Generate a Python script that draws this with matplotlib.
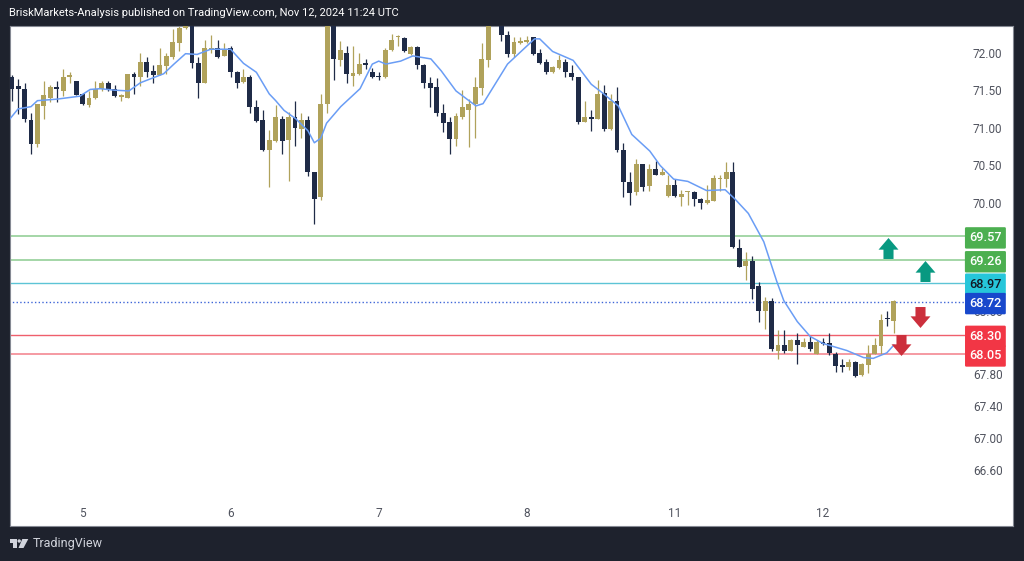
import matplotlib
matplotlib.use("Agg")
import matplotlib.pyplot as plt
from matplotlib.patches import Polygon, Circle
from matplotlib.path import Path
from matplotlib.ticker import FixedLocator, FormatStrFormatter, NullLocator
from matplotlib.transforms import Affine2D, blended_transform_factory

# candles, hourly, one row of ten per line
candle_open = [
    71.68, 71.55, 71.52, 71.10, 70.78, 71.29, 71.40, 71.54, 71.49, 71.67,
    71.62, 71.45, 71.30, 71.39, 71.52, 71.59, 71.51, 71.41, 71.40, 71.72,
    71.67, 71.88, 71.76, 71.70, 71.83, 71.95, 72.14, 72.34, 72.60, 71.86,
    71.60, 72.05, 72.06, 71.96, 72.06, 71.75, 71.61, 71.67, 71.28, 71.10,
    70.71, 70.82, 71.12, 70.83, 71.14, 70.98, 71.10, 70.42, 70.08, 71.32,
    72.60, 71.91, 72.00, 71.69, 71.72, 71.85, 71.75, 71.68, 71.67, 72.04,
    72.21, 72.20, 71.99, 72.08, 71.84, 71.59, 71.54, 71.20, 71.07, 70.85,
    71.14, 71.24, 71.32, 71.53, 71.90, 72.60, 72.70, 72.24, 71.99, 72.13,
    72.15, 72.21, 72.00, 71.88, 71.74, 71.80, 71.88, 71.73, 71.68, 71.08,
    71.14, 71.11, 71.46, 70.98, 71.35, 70.70, 70.28, 70.15, 70.52, 70.23,
    70.45, 70.37, 70.10, 70.24, 70.09, 70.15, 70.15, 70.06, 70.01, 70.03,
    70.32, 70.32, 70.41, 69.42, 69.18, 69.25, 68.93, 68.61, 68.73, 68.10,
    68.17, 68.10, 68.24, 68.15, 68.21, 68.06, 68.21, 68.20, 68.06, 67.91,
    67.89, 67.95, 67.79, 67.92, 68.05, 68.16, 68.51, 68.48,
]
candle_high = [
    71.70, 71.65, 71.59, 71.20, 71.32, 71.62, 71.57, 71.62, 71.78, 71.75,
    71.62, 71.46, 71.49, 71.62, 71.62, 71.62, 71.57, 71.45, 71.72, 71.75,
    72.00, 71.95, 71.84, 72.06, 72.00, 72.33, 72.38, 72.60, 72.70, 71.94,
    72.18, 72.24, 72.17, 72.13, 72.09, 71.76, 71.79, 71.70, 71.37, 71.23,
    70.97, 71.30, 71.15, 71.21, 71.36, 71.19, 71.16, 70.42, 71.45, 72.70,
    72.70, 72.16, 72.09, 72.09, 72.00, 71.92, 71.80, 71.75, 72.07, 72.25,
    72.24, 72.22, 72.10, 72.09, 71.85, 71.68, 71.66, 71.31, 71.14, 71.19,
    71.50, 71.38, 71.67, 72.14, 72.70, 72.90, 72.80, 72.29, 72.21, 72.22,
    72.23, 72.22, 72.05, 71.92, 71.82, 71.97, 71.92, 71.84, 71.68, 71.36,
    71.23, 71.63, 71.57, 71.45, 71.54, 70.80, 70.42, 70.58, 70.52, 70.52,
    70.56, 70.47, 70.37, 70.32, 70.18, 70.16, 70.16, 70.07, 70.24, 70.37,
    70.37, 70.54, 70.55, 69.54, 69.37, 69.32, 68.98, 68.78, 68.77, 68.36,
    68.36, 68.25, 68.33, 68.26, 68.28, 68.23, 68.26, 68.32, 68.08, 67.99,
    67.99, 67.97, 67.94, 68.17, 68.26, 68.57, 68.60, 68.75,
]
candle_low = [
    71.36, 71.18, 71.07, 70.65, 70.74, 71.12, 71.34, 71.34, 71.42, 71.60,
    71.43, 71.30, 71.28, 71.38, 71.49, 71.49, 71.41, 71.36, 71.39, 71.45,
    71.55, 71.68, 71.60, 71.70, 71.72, 71.92, 72.03, 72.33, 71.80, 71.39,
    71.60, 72.00, 71.93, 71.96, 71.67, 71.53, 71.60, 71.20, 71.07, 70.69,
    70.21, 70.81, 70.65, 70.29, 70.76, 70.86, 70.36, 69.73, 70.05, 71.20,
    71.63, 71.83, 71.60, 71.55, 71.71, 71.78, 71.66, 71.64, 71.66, 72.03,
    72.09, 72.01, 71.97, 71.79, 71.53, 71.28, 71.16, 70.94, 70.65, 70.76,
    71.11, 70.75, 70.86, 71.44, 71.81, 72.50, 72.16, 71.95, 71.95, 72.12,
    72.13, 71.97, 71.85, 71.72, 71.73, 71.79, 71.68, 71.64, 71.05, 71.07,
    70.96, 71.11, 70.95, 70.97, 70.68, 70.09, 69.98, 70.11, 70.17, 70.17,
    70.37, 70.37, 70.09, 70.09, 69.97, 69.98, 69.97, 69.93, 69.99, 70.03,
    70.17, 70.21, 69.42, 69.17, 69.00, 68.76, 68.46, 68.38, 68.09, 67.99,
    68.07, 68.09, 67.93, 68.14, 68.10, 68.05, 68.17, 68.04, 67.83, 67.83,
    67.85, 67.76, 67.77, 67.82, 68.05, 68.05, 68.41, 68.33,
]
candle_close = [
    71.52, 71.52, 71.12, 70.78, 71.31, 71.44, 71.54, 71.51, 71.68, 71.71,
    71.44, 71.31, 71.40, 71.52, 71.59, 71.51, 71.42, 71.42, 71.72, 71.68,
    71.88, 71.74, 71.71, 71.84, 71.96, 72.15, 72.34, 72.50, 71.86, 71.60,
    72.06, 72.06, 71.94, 72.05, 71.75, 71.60, 71.67, 71.28, 71.09, 70.71,
    70.83, 71.14, 70.82, 71.14, 70.99, 71.10, 70.42, 70.06, 71.32, 72.60,
    71.92, 72.04, 71.72, 71.73, 71.85, 71.84, 71.67, 71.67, 72.04, 72.18,
    72.22, 72.02, 72.08, 71.84, 71.60, 71.53, 71.19, 71.06, 70.85, 71.15,
    71.27, 71.32, 71.54, 71.92, 72.60, 72.80, 72.24, 71.99, 72.15, 72.16,
    72.18, 71.98, 71.86, 71.74, 71.81, 71.90, 71.74, 71.68, 71.08, 71.14,
    71.11, 71.45, 70.98, 71.36, 70.71, 70.28, 70.14, 70.52, 70.21, 70.45,
    70.38, 70.42, 70.24, 70.10, 70.13, 70.16, 70.06, 70.01, 70.04, 70.34,
    70.33, 70.42, 69.43, 69.17, 69.25, 68.89, 68.61, 68.74, 68.12, 68.17,
    68.10, 68.24, 68.17, 68.21, 68.12, 68.21, 68.18, 68.07, 67.90, 67.89,
    67.95, 67.78, 67.93, 68.06, 68.17, 68.49, 68.50, 68.73,
]

# moving average, vertices
ma_index = [-0.25, 1, 3, 4, 7, 10.6, 12.2, 13.75, 16, 18.2, 20, 23.6, 25.2, 27, 28.8, 30.9, 34, 36, 38, 40,
            41, 42.3, 44.1, 46, 47, 48, 48.9, 51.1, 54.1, 56, 57, 58.1, 60.4, 62.3, 65.1, 66.7, 69, 72.1, 73.2, 77,
            81.2, 82, 84, 87.2, 90, 91.8, 94.2, 96.3, 99.1, 100.7, 102.8, 105, 107.9, 110.8, 112.3, 114.4, 116.8, 118.8, 119.9, 122,
            124, 126, 129.7, 132.3, 133.8, 135.9, 137]
ma_price = [71.12, 71.25, 71.28, 71.36, 71.38, 71.42, 71.51, 71.52, 71.50, 71.49, 71.60, 71.72, 71.85, 71.99, 71.98, 72.05, 72.05, 71.86, 71.74, 71.45,
            71.36, 71.23, 71.12, 70.96, 70.80, 70.86, 71.06, 71.28, 71.52, 71.85, 71.89, 71.85, 71.89, 71.96, 71.92, 71.76, 71.49, 71.29, 71.32, 71.85,
            72.19, 72.19, 72.02, 71.90, 71.58, 71.46, 71.29, 70.91, 70.69, 70.50, 70.32, 70.29, 70.17, 70.18, 70.06, 69.87, 69.50, 68.99, 68.74, 68.47,
            68.28, 68.19, 68.10, 68.01, 68.00, 68.07, 68.17]

price_ticks = [72.0, 71.5, 71.0, 70.5, 70.0, 69.5, 68.6, 68.2, 67.8, 67.4, 67.0, 66.6]
day_ticks = [11, 34, 57, 80, 103, 126]
day_labels = ["5", "6", "7", "8", "11", "12"]

level_prices = [69.57, 69.26, 68.97, 68.72, 68.30, 68.05]
level_labels = ["69.57", "69.26", "68.97", "68.72", "68.30", "68.05"]
level_line_colors = ["#8ccb8f", "#8ccb8f", "#5cc4d6", "#3f66d8", "#ef5f6c", "#f59aa2"]
level_box_colors = ["#4caf50", "#4caf50", "#26c6da", "#1848cc", "#f23645", "#f23645"]
level_text_colors = ["white", "white", "#131722", "white", "white", "white"]

up_index = [136.1, 141.9]
up_price = [69.42, 69.115]
down_index = [141.1, 138.1]
down_price = [68.53, 68.17]

BG = "#1e222d"
DARK = "#1f2b47"
GOLD = "#b0a25b"
W, H = 1024, 561

plt.rcParams["font.family"] = ["Roboto", "DejaVu Sans"]

fig = plt.figure(figsize=(W / 100, H / 100), dpi=100, facecolor=BG)
# panel: x 10-1013, y 26-526 in pixels
ax = fig.add_axes([10 / W, 1 - 526 / H, 1003 / W, 500 / H], facecolor="white")

index = list(range(len(candle_open)))
colors = [GOLD if c >= o else DARK for o, c in zip(candle_open, candle_close)]
bottoms = [min(o, c) for o, c in zip(candle_open, candle_close)]
heights = [max(abs(c - o), 0.02) for o, c in zip(candle_open, candle_close)]

ax.set_yscale("log")
ax.vlines(index, candle_low, candle_high, colors=colors, linewidth=0.9, zorder=2)
ax.bar(index, heights, bottom=bottoms, width=0.76, color=colors, zorder=3)
ax.plot(ma_index, ma_price, color="#6a9df5", linewidth=1.1, zorder=4)

# price levels stop at the label box
for price, color, style, lw in zip(level_prices, level_line_colors, ["-", "-", "-", ":", "-", "-"],
                                   [1.1, 1.1, 1.0, 1.0, 1.0, 1.4]):
    ax.hlines(price, -1, 148.1, colors=color, linewidth=lw, linestyles=style, zorder=1.5)

# arrows as path markers
up_arrow = Path([(0, 1), (0.95, -0.11), (0.48, -0.11), (0.48, -1), (-0.48, -1), (-0.48, -0.11), (-0.95, -0.11), (0, 1)], closed=True)
down_arrow = up_arrow.transformed(Affine2D().scale(1, -1))
ax.plot(up_index, up_price, ls="", marker=up_arrow, markersize=15.1, color="#089981", mew=0, zorder=5)
ax.plot(down_index, down_price, ls="", marker=down_arrow, markersize=15.1, color="#cc2f3c", mew=0, zorder=5)

ax.set_xlim(-0.26, 155.5)
ax.set_ylim(65.90, 72.364)

ax.yaxis.tick_right()
ax.yaxis.set_major_locator(FixedLocator(price_ticks))
ax.yaxis.set_major_formatter(FormatStrFormatter("%.2f"))
ax.yaxis.set_minor_locator(NullLocator())
ax.tick_params(axis="y", length=0, pad=-28.8, labelsize=8.5, labelcolor="#50535e")
ax.set_xticks(day_ticks)
ax.set_xticklabels(day_labels)
ax.xaxis.set_minor_locator(NullLocator())
ax.tick_params(axis="x", length=0, pad=-14, labelsize=8.5, labelcolor="#50535e")
for spine in ax.spines.values():
    spine.set_color("#858993")
    spine.set_linewidth(0.8)

# label boxes over the price axis
tr = blended_transform_factory(ax.transAxes, ax.transData)
for price, label, box, txt in zip(level_prices, level_labels, level_box_colors, level_text_colors):
    ax.text(0.9725, price, label, transform=tr, ha="center", va="center_baseline", fontsize=9.2, color=txt,
            fontweight="medium", zorder=7,
            bbox=dict(boxstyle="round,pad=0.33,rounding_size=0.1", facecolor=box, edgecolor="none"))

fig.text(9 / W, 1 - 13 / H, "BriskMarkets-Analysis published on TradingView.com, Nov 12, 2024 11:24 UTC",
         color="white", fontsize=8.05, ha="left", va="center")
fig.text(33 / W, 1 - 544 / H, "TradingView", color="#d1d4dc", fontsize=9.0, ha="left", va="center")

# logo, pixels with y flipped
px = Affine2D().scale(1, -1).translate(0, H)
logo_color = "#d1d4dc"
fig.add_artist(Polygon([(9.5, 539), (17, 539), (17, 548), (13, 548), (13, 543), (9.5, 543)], closed=True, color=logo_color, lw=0, transform=px))
fig.add_artist(Circle((19.2, 541), 1.7, color=logo_color, lw=0, transform=px))
fig.add_artist(Polygon([(22.3, 539), (28.3, 539), (23.5, 548), (18.5, 548)], closed=True, color=logo_color, lw=0, transform=px))

fig.savefig("out.png", dpi=100, facecolor=BG)
